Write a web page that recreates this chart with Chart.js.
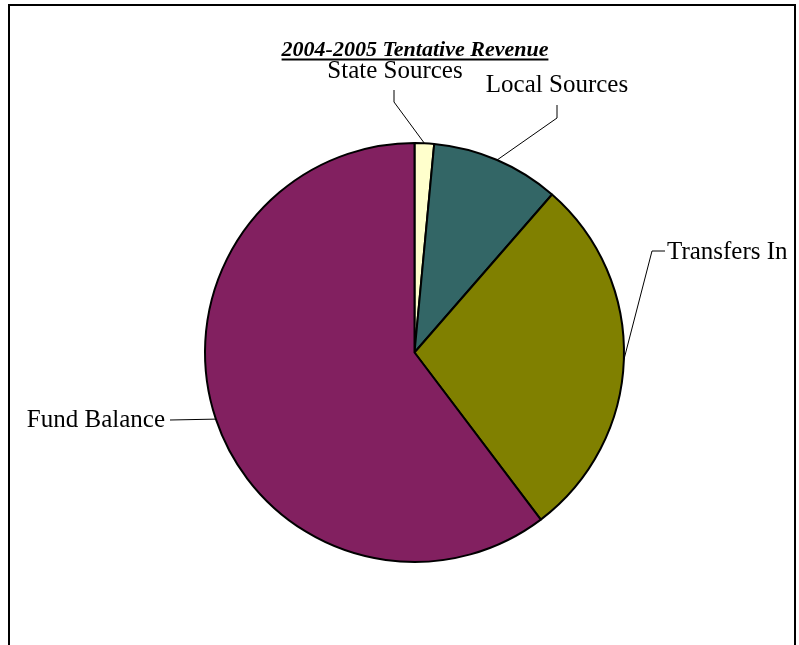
<!DOCTYPE html>
<html>
<head>
<meta charset="utf-8">
<script src="https://cdn.jsdelivr.net/npm/chart.js@4.4.1/dist/chart.umd.min.js"></script>
<style>
  html, body { margin: 0; padding: 0; background: #ffffff; }
  #wrap { width: 799px; height: 645px; position: relative; }
  canvas { display: block; }
</style>
</head>
<body>
<div id="wrap"><canvas id="c" width="799" height="645"></canvas></div>
<script>
// Revenue shares (percent of total)
const categories = ['State Sources', 'Local Sources', 'Transfers In', 'Fund Balance'];
const shares = [1.5, 9.9, 28.3, 60.3];
const sliceColors = ['#FFFFCC', '#336666', '#808000', '#822060'];
const chartTitle = '2004-2005 Tentative Revenue';

const SERIF = '"Liberation Serif", "Times New Roman", Times, serif';

// Label placement: text anchor, elbow points of the leader line
const labelLayout = [
  { text: { x: 395, y: 71, align: 'center' }, path: [[394, 90], [394, 102]] },
  { text: { x: 557, y: 85, align: 'center' }, path: [[557, 105], [557, 118]] },
  { text: { x: 667, y: 252, align: 'left' },  path: [[665, 251], [652, 251]] },
  { text: { x: 165, y: 420, align: 'right' }, path: [[170, 420]] }
];

const decorations = {
  id: 'decorations',
  afterDatasetsDraw(chart) {
    const ctx = chart.ctx;
    const meta = chart.getDatasetMeta(0);
    ctx.save();

    // leader lines and labels
    ctx.strokeStyle = '#000';
    ctx.lineWidth = 1;
    ctx.fillStyle = '#000';
    ctx.font = '25px ' + SERIF;
    ctx.textBaseline = 'middle';
    meta.data.forEach((arc, i) => {
      const p = arc.getProps(['x', 'y', 'startAngle', 'endAngle', 'outerRadius'], true);
      const mid = (p.startAngle + p.endAngle) / 2;
      const ex = p.x + Math.cos(mid) * p.outerRadius;
      const ey = p.y + Math.sin(mid) * p.outerRadius;
      const lay = labelLayout[i];
      ctx.beginPath();
      ctx.moveTo(lay.path[0][0], lay.path[0][1]);
      for (let k = 1; k < lay.path.length; k++) ctx.lineTo(lay.path[k][0], lay.path[k][1]);
      ctx.lineTo(ex, ey);
      ctx.stroke();
      ctx.textAlign = lay.text.align;
      ctx.fillText(chart.data.labels[i], lay.text.x, lay.text.y);
    });

    // title, bold italic and underlined
    ctx.font = 'italic bold 22px ' + SERIF;
    ctx.textAlign = 'center';
    ctx.textBaseline = 'alphabetic';
    const tx = 415, ty = 56;
    ctx.fillText(chartTitle, tx, ty);
    const w = ctx.measureText(chartTitle).width;
    ctx.fillRect(tx - w / 2, ty + 2.5, w, 2);

    // outer frame
    ctx.strokeStyle = '#000';
    ctx.lineWidth = 2;
    ctx.beginPath();
    ctx.moveTo(9, 700);
    ctx.lineTo(9, 5);
    ctx.lineTo(795, 5);
    ctx.lineTo(795, 700);
    ctx.stroke();
    ctx.restore();
  }
};

new Chart(document.getElementById('c'), {
  type: 'pie',
  data: {
    labels: categories,
    datasets: [{
      data: shares,
      backgroundColor: sliceColors,
      borderColor: '#000000',
      borderWidth: 2
    }]
  },
  options: {
    responsive: false,
    animation: false,
    rotation: 0,
    layout: { padding: { left: 204, right: 174, top: 142, bottom: 82 } },
    plugins: {
      legend: { display: false },
      title: { display: false },
      tooltip: { enabled: false }
    }
  },
  plugins: [decorations]
});
</script>
</body>
</html>
